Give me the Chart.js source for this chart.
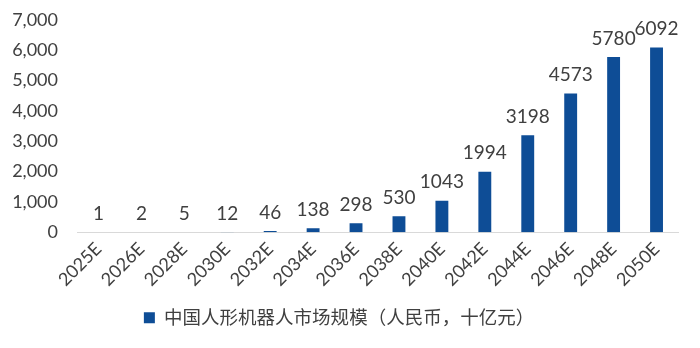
<!DOCTYPE html>
<html>
<head>
<meta charset="utf-8">
<script src="https://cdn.jsdelivr.net/npm/chart.js@4/dist/chart.umd.min.js"></script>
<style>
  html, body { margin: 0; padding: 0; background: #fff; }
  #wrap { width: 700px; height: 348px; }
</style>
</head>
<body>
<div id="wrap"><canvas id="c"></canvas></div>
<script>
// chart data
const years = ['2025E', '2026E', '2028E', '2030E', '2032E', '2034E', '2036E', '2038E', '2040E', '2042E', '2044E', '2046E', '2048E', '2050E'];
const marketSize = [1, 2, 5, 12, 46, 138, 298, 530, 1043, 1994, 3198, 4573, 5780, 6092];
const seriesName = '中国人形机器人市场规模（人民币，十亿元）';
const yTicks = [0, 1000, 2000, 3000, 4000, 5000, 6000, 7000];

const fontFam = '"Lato", "Noto Sans CJK SC", sans-serif';
const textColor = '#404040';
const barColor = '#0e4d96';

// Draw the value above each bar
const valueLabels = {
    id: 'valueLabels',
    afterDatasetsDraw(chart) {
        const ctx = chart.ctx;
        const meta = chart.getDatasetMeta(0);
        ctx.save();
        ctx.font = '19px ' + fontFam;
        ctx.fillStyle = textColor;
        ctx.textAlign = 'center';
        ctx.textBaseline = 'bottom';
        meta.data.forEach((bar, i) => {
            ctx.fillText(String(marketSize[i]), bar.x, bar.y - 9);
        });
        ctx.restore();
    }
};

new Chart(document.getElementById('c'), {
    type: 'bar',
    data: {
        labels: years,
        datasets: [{
            label: seriesName,
            data: marketSize,
            backgroundColor: barColor,
            barPercentage: 0.6,
            categoryPercentage: 0.5
        }]
    },
    options: {
        responsive: true,
        maintainAspectRatio: false,
        animation: false,
        layout: { padding: { left: 0, right: 22, top: 20, bottom: 11 } },
        plugins: {
            tooltip: { enabled: false },
            legend: {
                position: 'bottom',
                labels: {
                    font: { size: 18.5, family: fontFam },
                    color: textColor,
                    boxWidth: 11,
                    boxHeight: 11,
                    padding: 12
                }
            }
        },
        scales: {
            x: {
                grid: { display: false, drawTicks: false },
                border: { color: '#d9d9d9', width: 1 },
                ticks: {
                    color: textColor,
                    font: { size: 18, family: fontFam },
                    maxRotation: 45,
                    minRotation: 45,
                    padding: 6,
                    autoSkip: false
                }
            },
            y: {
                min: 0,
                max: 7000,
                afterBuildTicks(axis) {
                    axis.ticks = yTicks.map(v => ({ value: v }));
                },
                afterFit(axis) {
                    axis.width = 77;
                    axis.paddingTop = 0;
                    axis.paddingBottom = 0;
                },
                grid: { display: false, drawTicks: false },
                border: { display: false },
                ticks: {
                    color: textColor,
                    font: { size: 18, family: fontFam },
                    padding: 19,
                    callback: v => v.toLocaleString('en-US')
                }
            }
        }
    },
    plugins: [valueLabels]
});
</script>
</body>
</html>
